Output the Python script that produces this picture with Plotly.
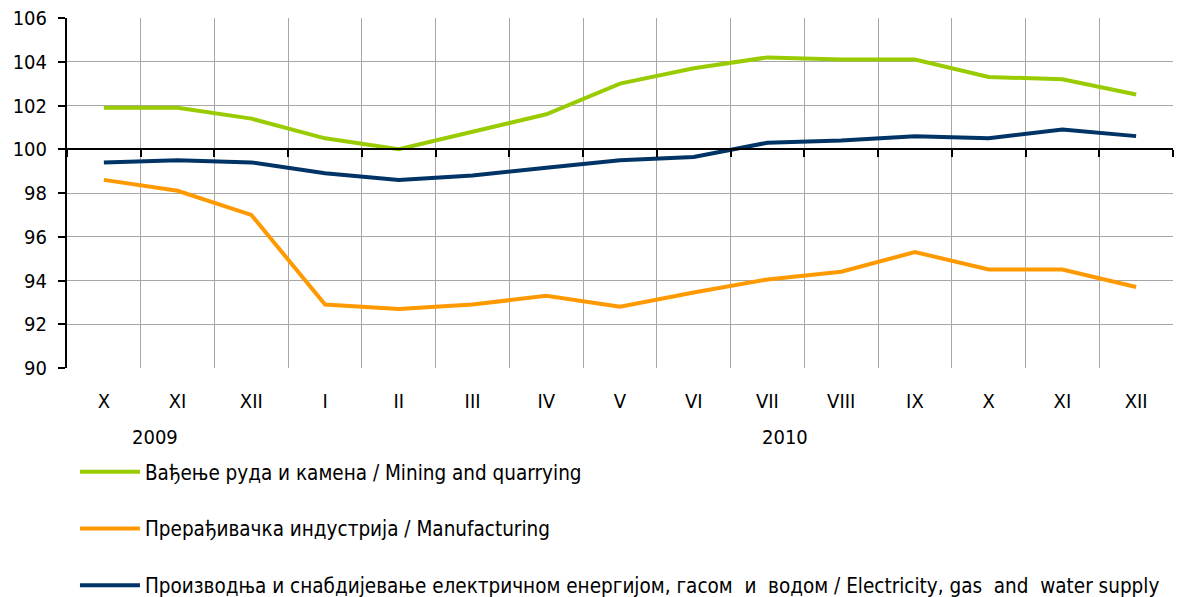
import plotly.graph_objects as go

months = ["X", "XI", "XII", "I", "II", "III", "IV", "V", "VI", "VII", "VIII", "IX", "X", "XI", "XII"]
years = ["2009"] * 3 + ["2010"] * 12
periods = [f"{m} {y}" for m, y in zip(months, years)]

mining = [101.9, 101.9, 101.4, 100.5, 100.0, 100.8, 101.6, 103.0, 103.7, 104.2, 104.1, 104.1, 103.3, 103.2, 102.5]
manufacturing = [98.6, 98.1, 97.0, 92.9, 92.7, 92.9, 93.3, 92.8, 93.45, 94.05, 94.4, 95.3, 94.5, 94.5, 93.7]
electricity = [99.4, 99.5, 99.4, 98.9, 98.6, 98.8, 99.15, 99.5, 99.65, 100.3, 100.4, 100.6, 100.5, 100.9, 100.6]

names = [
    "Вађење руда и камена / Mining and quarrying",
    "Прерађивачка индустрија / Manufacturing",
    "Производња и снабдијевање електричном енергијом, гасом  и  водом / Electricity, gas  and  water supply",
]
colors = ["#99CC00", "#FF9900", "#003366"]
y_ticks = [90, 92, 94, 96, 98, 100, 102, 104, 106]
year_labels = ["2009", "2010"]

FONT = "DejaVu Sans Condensed, DejaVu Sans, sans-serif"

fig = go.Figure()
# invisible trace that anchors the crossing axis at 100
fig.add_trace(go.Scatter(x=periods, y=mining, xaxis="x2", yaxis="y", mode="lines",
                         line=dict(width=0), opacity=0, showlegend=False, hoverinfo="skip"))
for i, (name, vals, col) in enumerate(zip(names, [mining, manufacturing, electricity], colors)):
    fig.add_trace(go.Scatter(x=periods, y=vals, name=name, mode="lines", legendgroup=f"g{i}",
                             line=dict(color=col, width=4)))

fig.update_layout(
    width=1179, height=597,
    margin=dict(l=67, r=6, t=18, b=229, autoexpand=False),
    paper_bgcolor="white", plot_bgcolor="white",
    font=dict(family=FONT, size=20, color="black"),
    xaxis=dict(type="category", categoryorder="array", categoryarray=periods,
               tickmode="array", tickvals=periods, ticktext=months,
               tickson="boundaries", showgrid=True, gridcolor="#A6A6A6", gridwidth=1,
               ticks="", ticklabelstandoff=19, showline=False, zeroline=False,
               range=[-0.5, 14.5], tickfont=dict(size=20), automargin=False),
    xaxis2=dict(type="category", overlaying="x", matches="x", anchor="free", position=0.625,
                categoryorder="array", categoryarray=periods,
                tickson="boundaries", showline=True, linecolor="black", linewidth=2,
                ticks="outside", ticklen=7, tickwidth=2, tickcolor="black",
                showticklabels=False, showgrid=False, zeroline=False, automargin=False),
    yaxis=dict(range=[90, 106], tickvals=y_ticks, showgrid=True, gridcolor="#A6A6A6",
               gridwidth=1, showline=True, linecolor="black", linewidth=2,
               ticks="outside", ticklen=7, tickwidth=2, tickcolor="black",
               zeroline=False, tickfont=dict(size=20), ticklabelstandoff=7, automargin=False),
    legend=dict(x=0.0072, y=-0.24, xanchor="left", yanchor="top", orientation="v",
                font=dict(size=20.5), itemwidth=60, tracegroupgap=27,
                bgcolor="rgba(0,0,0,0)"),
    showlegend=True,
)

for label, xp in zip(year_labels, [0.08, 0.649]):
    fig.add_annotation(text=label, x=xp, y=-0.197, xref="paper", yref="paper",
                       showarrow=False, font=dict(size=20), xanchor="center", yanchor="middle")

fig.write_html("out.html", config={"displayModeBar": False},
               post_script="document.body.style.margin='0';document.body.style.padding='0';")
